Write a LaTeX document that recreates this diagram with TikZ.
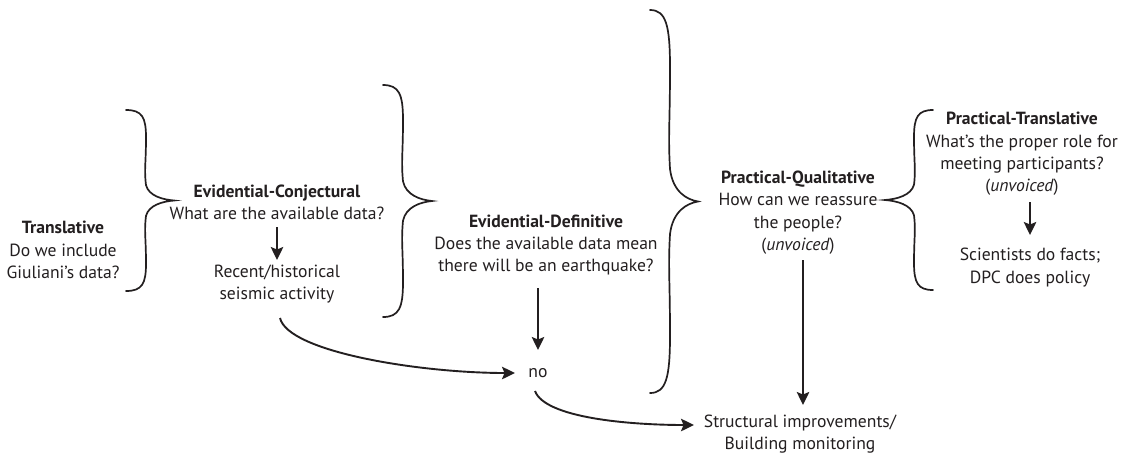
\documentclass[tikz,border=0pt]{standalone}
\usepackage{fontspec}
\setmainfont{PT Sans}
\usetikzlibrary{arrows.meta,calc}
\definecolor{ink}{HTML}{231F20}
\newcommand{\cbr}[5]{%
\pgfmathsetmacro{\ym}{(#2+#3)/2}%
\pgfmathsetmacro{\hh}{(#3-#2)/2}%
\pgfmathsetmacro{\dd}{#4-#1}%
\pgfmathsetmacro{\bT}{#5-#4}%
\draw[br] (#1,#2) .. controls ({#1+0.8*\dd},{#2}) and ({#4},{#2+0.08*\hh}) .. ({#4},{#2+0.3*\hh})
 .. controls ({#4},{#2+0.6*\hh}) and ({#4-0.1*\dd},{\ym-0.35*\hh}) .. ({#4},{\ym-0.17*\hh})
 .. controls ({#4+0.1*\bT},{\ym-0.05*\hh}) and ({#5-0.4*\bT},{\ym-0.01*\hh}) .. (#5,\ym)
 .. controls ({#5-0.4*\bT},{\ym+0.01*\hh}) and ({#4+0.1*\bT},{\ym+0.05*\hh}) .. ({#4},{\ym+0.17*\hh})
 .. controls ({#4-0.1*\dd},{\ym+0.35*\hh}) and ({#4},{#3-0.6*\hh}) .. ({#4},{#3-0.3*\hh})
 .. controls ({#4},{#3-0.08*\hh}) and ({#1+0.8*\dd},{#3}) .. (#1,#3);}
\tikzset{
  x=1pt, y=-1pt,
  txt/.style={align=center, font=\fontsize{17.6}{22.3}\selectfont, text=ink, inner sep=2pt},
  br/.style={draw=ink, line width=1.7pt, line cap=round},
  arr/.style={draw=ink, line width=1.9pt, -{Stealth[length=13pt,width=12.5pt,inset=2.5pt]}},
}
\begin{document}
\begin{tikzpicture}
\useasboundingbox[fill=white] (0,0) rectangle (1123,456);
% braces
\cbr{126}{110}{291}{146}{174}
\cbr{383}{85}{317}{403}{432}
\cbr{650}{10}{393}{670}{698}
\cbr{933}{110}{290}{914}{885}
% texts
\node[txt] (tr) at (63,250) {\textbf{Translative}\\Do we include\\Giuliani’s data?};
\node[txt] (ec) at (277,202.5) {\textbf{Evidential-Conjectural}\\What are the available data?};
\node[txt] (rec) at (277,284) {Recent/historical\\seismic activity};
\node[txt] (ed) at (546,245) {\textbf{Evidential-Definitive}\\Does the available data mean\\there will be an earthquake?};
\node[txt] (no) at (538,373) {no};
\node[txt] (pq) at (798,212.5) {\textbf{Practical-Qualitative}\\How can we reassure\\the people?\\(\textit{unvoiced})};
\node[txt] (st) at (800,434) {Structural improvements/\\Building monitoring};
\node[txt] (pt) at (1022,154) {\textbf{Practical-Translative}\\What’s the proper role for\\meeting participants?\\(\textit{unvoiced})};
\node[txt] (sc) at (1030,267.5) {Scientists do facts;\\DPC does policy};
% arrows
\draw[arr] (277,227) -- (277,260);
\draw[arr] (538,288) -- (538,350);
\draw[arr] (803,260) -- (803,405);
\draw[arr] (1030,202) -- (1030,235);
\coordinate (r0) at (280,318);
\coordinate (r1) at (515,373);
\coordinate (n0) at (535,391);
\coordinate (n1) at (694,425);
\draw[arr] (r0) .. controls (288,352) and (420,373) .. (r1);
\draw[arr] (n0) .. controls (545,418) and (630,425) .. (n1);
\end{tikzpicture}
\end{document}
